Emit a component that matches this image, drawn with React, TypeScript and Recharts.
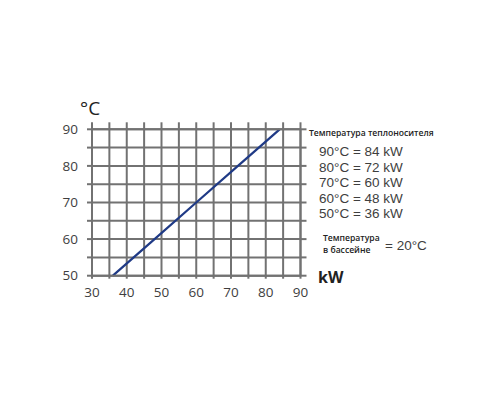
import React from 'react';
import { LineChart, Line, XAxis, YAxis, CartesianGrid } from 'recharts';

const supplyTemps = [90, 80, 70, 60, 50];
const powersKw = [84, 72, 60, 48, 36];
const poolTemp = 20;
const xTicks = [30, 35, 40, 45, 50, 55, 60, 65, 70, 75, 80, 85, 90];
const yTicks = [50, 55, 60, 65, 70, 75, 80, 85, 90];
const titleSupply = 'Температура теплоносителя';
const titlePool1 = 'Температура';
const titlePool2 = 'в бассейне';

const data = powersKw
  .map((kw, i) => ({ kw, temp: supplyTemps[i] }))
  .sort((a, b) => a.kw - b.kw);

const GRID = '#727272';
const TXT = '#3e3e3e';
const blank = () => '';

export default function App() {
  return (
    <LineChart
      width={492}
      height={392}
      data={data}
      margin={{ top: 111.3, left: 54, right: 189.5, bottom: 94.3 }}
    >
      <CartesianGrid xAxisId="b" yAxisId="l" stroke={GRID} strokeWidth={2} />
      <XAxis
        xAxisId="b"
        dataKey="kw"
        type="number"
        domain={[30, 90]}
        ticks={xTicks}
        interval={0}
        height={30}
        tickSize={3}
        tickMargin={9}
        axisLine={{ stroke: GRID, strokeWidth: 2 }}
        tickLine={{ stroke: GRID, strokeWidth: 2 }}
        tickFormatter={(v: number) => (v % 10 === 0 ? String(v) : '')}
        tick={{ fill: TXT, fontSize: 13.5, fontFamily: 'Open Sans' }}
      />
      <XAxis
        xAxisId="t"
        orientation="top"
        dataKey="kw"
        type="number"
        domain={[30, 90]}
        ticks={xTicks}
        interval={0}
        height={10}
        tickSize={7}
        axisLine={{ stroke: GRID, strokeWidth: 2 }}
        tickLine={{ stroke: GRID, strokeWidth: 2 }}
        tickFormatter={blank}
      />
      <YAxis
        yAxisId="l"
        dataKey="temp"
        type="number"
        domain={[50, 90]}
        ticks={yTicks}
        interval={0}
        width={30}
        tickSize={5}
        tickMargin={9}
        axisLine={{ stroke: GRID, strokeWidth: 2 }}
        tickLine={{ stroke: GRID, strokeWidth: 2 }}
        tickFormatter={(v: number) => (v % 10 === 0 ? String(v) : '')}
        tick={{ fill: TXT, fontSize: 13.5, fontFamily: 'Open Sans' }}
      />
      <YAxis
        yAxisId="r"
        orientation="right"
        dataKey="temp"
        type="number"
        domain={[50, 90]}
        ticks={yTicks}
        interval={0}
        width={10}
        tickSize={6}
        axisLine={{ stroke: GRID, strokeWidth: 2 }}
        tickLine={{ stroke: GRID, strokeWidth: 2 }}
        tickFormatter={blank}
      />
      <Line
        xAxisId="b"
        yAxisId="l"
        dataKey="temp"
        type="linear"
        stroke="#1f3a86"
        strokeWidth={2.2}
        dot={false}
        isAnimationActive={false}
      />
      <g>
        <text x={72} y={107} fontSize={19} fontFamily="Open Sans" fill="#222">°C</text>
        <text x={310} y={275} fontSize={16} fontWeight={700} fontFamily="Open Sans" fill="#222">kW</text>
        <text x={301} y={128} fontSize={8.6} fontWeight={600} fontFamily="Open Sans" fill="#222">{titleSupply}</text>
        {supplyTemps.map((t, i) => (
          <text
            key={t}
            x={311}
            y={148 + i * 15.6}
            fontSize={13.5}
            fontFamily="Liberation Sans"
            fill={TXT}
          >
            {`${t}°C = ${powersKw[i]} kW`}
          </text>
        ))}
        <text x={315} y={232.5} fontSize={8.6} fontWeight={600} fontFamily="Open Sans" fill="#222">{titlePool1}</text>
        <text x={315} y={245} fontSize={8.6} fontWeight={600} fontFamily="Open Sans" fill="#222">{titlePool2}</text>
        <text x={377} y={242} fontSize={13.5} fontFamily="Liberation Sans" fill={TXT}>{`= ${poolTemp}°C`}</text>
      </g>
    </LineChart>
  );
}
